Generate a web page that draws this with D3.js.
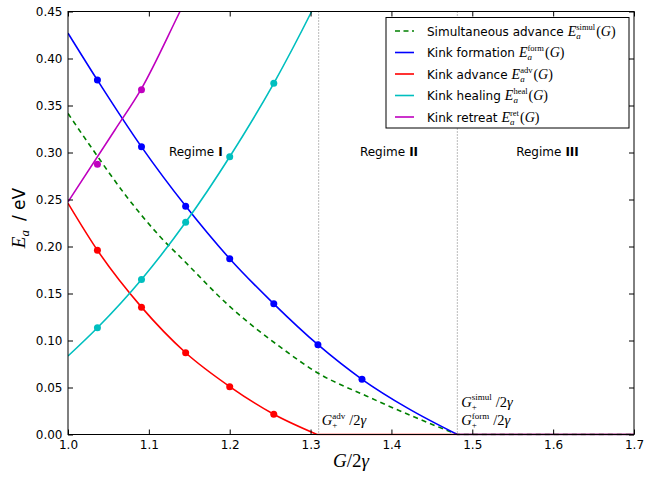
<!DOCTYPE html>
<html lang="en">
<head>
<meta charset="UTF-8">
<script src="https://d3js.org/d3.v7.min.js"></script>
<title>Kink energies</title>
<style>
body { margin: 0; background: #fff; }
svg { display: block; }
text { white-space: pre; }
</style>
</head>
<body>
<svg id="canvas"></svg>
<script>
// curves: [G/2gamma, Ea in eV], each ending where it reaches zero
let simulCurve = [[1.0, 0.3415], [1.031, 0.3027], [1.0726, 0.253], [1.114, 0.2104], [1.1426, 0.1856], [1.2003, 0.136],
    [1.262, 0.0934], [1.3096, 0.0651], [1.369, 0.041], [1.423, 0.0205], [1.4815, 0]]
let formCurve = [[1.0, 0.427], [1.0364, 0.377], [1.0909, 0.306], [1.1455, 0.243], [1.2, 0.187], [1.2545, 0.139],
    [1.3091, 0.0955], [1.3636, 0.0587], [1.42, 0.028], [1.4815, 0]]
let advCurve = [[1.0, 0.246], [1.0364, 0.196], [1.0909, 0.1355], [1.1455, 0.087], [1.2, 0.051], [1.2545, 0.0215],
    [1.308, 0]]
let healCurve = [[1.0, 0.0835], [1.0364, 0.1136], [1.0909, 0.165], [1.1455, 0.2257], [1.2, 0.2955], [1.2545, 0.3736],
    [1.3013, 0.45], [1.31, 0.465]]
let retCurve = [[1.0, 0.2475], [1.058, 0.324], [1.0909, 0.368], [1.1385, 0.45], [1.15, 0.47]]

// flat zero part after the curve hits zero
let simulZero = [[1.4815, 0], [1.7, 0]]
let formZero = [[1.4815, 0], [1.7, 0]]
let advZero = [[1.308, 0], [1.7, 0]]

// simulation points
let formDots = [[1.0364, 0.377], [1.0909, 0.306], [1.1455, 0.2427], [1.2, 0.187], [1.2545, 0.139], [1.3091, 0.0955], [1.3636, 0.0587]]
let advDots = [[1.0364, 0.196], [1.0909, 0.1353], [1.1455, 0.087], [1.2, 0.0509], [1.2545, 0.0215]]
let healDots = [[1.0364, 0.1136], [1.0909, 0.165], [1.1455, 0.2257], [1.2, 0.2955], [1.2545, 0.3736]]
let retDots = [[1.0364, 0.2874], [1.0909, 0.3668]]

let xTicks = [1.0, 1.1, 1.2, 1.3, 1.4, 1.5, 1.6, 1.7]
let yTicks = [0, 0.05, 0.1, 0.15, 0.2, 0.25, 0.3, 0.35, 0.4, 0.45]

let criticalG = [1.31, 1.4815]
let regimeNames = ['I', 'II', 'III']
let regimeX = [1.158, 1.397, 1.593]

let legendNames = ['Simultaneous advance', 'Kink formation', 'Kink advance', 'Kink healing', 'Kink retreat']
let legendSup = ['simul', 'form', 'adv', 'heal', 'ret']

let width = 645
let height = 477
let padLeft = 68, padRight = 634, padTop = 11.5, padBottom = 434.5

let svg = d3.select('#canvas').attr('width', width).attr('height', height)

let xScale = d3.scaleLinear().domain([1.0, 1.7]).range([padLeft, padRight])
let yScale = d3.scaleLinear().domain([0, 0.45]).range([padBottom, padTop])

let serif = "'Liberation Serif', 'DejaVu Serif', serif"
let sans = "'DejaVu Sans', sans-serif"

// draws a row of text pieces (for the little math labels), returns the width
let drawRich = (g, x, y, pieces) => {
    let cx = x
    let lastX = x
    pieces.forEach((p) => {
        let px = p.stack ? lastX : cx + (p.gap || 0)
        let t = g.append('text')
            .attr('x', px)
            .attr('y', y + (p.dy || 0))
            .style('font-family', p.f == 'sans' ? sans : serif)
            .style('font-style', p.i ? 'italic' : 'normal')
            .style('font-weight', p.b ? 'bold' : 'normal')
            .style('font-size', p.s + 'px')
            .attr('fill', '#000')
            .text(p.t)
        let w = t.node().getComputedTextLength()
        if (p.stack) {
            cx = Math.max(cx, px + w)
        } else {
            lastX = px
            cx = px + w
        }
    })
    return cx - x
}

let plot = svg.append('g')
svg.append('clipPath').attr('id', 'clip')
    .append('rect').attr('x', padLeft).attr('y', padTop).attr('width', padRight - padLeft).attr('height', padBottom - padTop + 1)

// vertical dotted lines
plot.selectAll('.vline')
    .data(criticalG)
    .enter()
    .append('line')
    .attr('x1', (d) => xScale(d))
    .attr('x2', (d) => xScale(d))
    .attr('y1', padTop)
    .attr('y2', padBottom)
    .attr('stroke', '#777')
    .attr('stroke-width', 1)
    .attr('stroke-dasharray', '1,2')

let line = d3.line()
    .x((d) => xScale(d[0]))
    .y((d) => yScale(d[1]))
    .curve(d3.curveMonotoneX)

let flat = d3.line()
    .x((d) => xScale(d[0]))
    .y((d) => yScale(d[1]))

let series = [
    {curve: simulCurve, zero: simulZero, dots: [], color: '#008000', dash: '5,4'},
    {curve: formCurve, zero: formZero, dots: formDots, color: '#0000ff', dash: null},
    {curve: advCurve, zero: advZero, dots: advDots, color: '#ff0000', dash: null},
    {curve: healCurve, zero: null, dots: healDots, color: '#00bfbf', dash: null},
    {curve: retCurve, zero: null, dots: retDots, color: '#bf00bf', dash: null}
]

let lines = plot.append('g').attr('clip-path', 'url(#clip)')
series.forEach((s) => {
    let d = line(s.curve)
    if (s.zero) {
        d = d + flat(s.zero).replace('M', 'L')
    }
    lines.append('path')
        .attr('d', d)
        .attr('fill', 'none')
        .attr('stroke', s.color)
        .attr('stroke-width', 1.6)
        .attr('stroke-dasharray', s.dash)
    lines.selectAll(null)
        .data(s.dots)
        .enter()
        .append('circle')
        .attr('cx', (d) => xScale(d[0]))
        .attr('cy', (d) => yScale(d[1]))
        .attr('r', 3.5)
        .attr('fill', s.color)
})

// axes, ticks inside on all four sides
let styleAxis = (g) => {
    g.select('.domain').remove()
    g.selectAll('.tick line').attr('stroke', '#000')
    g.selectAll('.tick text').style('font-family', sans).style('font-size', '12px').attr('fill', '#000')
}

svg.append('g')
    .attr('transform', 'translate(0,' + padBottom + ')')
    .call(d3.axisBottom(xScale).tickValues(xTicks).tickFormat(d3.format('.1f')).tickSizeInner(-5).tickSizeOuter(0).tickPadding(5.5))
    .call(styleAxis)
svg.append('g')
    .attr('transform', 'translate(0,' + padTop + ')')
    .call(d3.axisTop(xScale).tickValues(xTicks).tickFormat('').tickSizeInner(-5).tickSizeOuter(0))
    .call(styleAxis)
svg.append('g')
    .attr('transform', 'translate(' + padLeft + ',0)')
    .call(d3.axisLeft(yScale).tickValues(yTicks).tickFormat(d3.format('.2f')).tickSizeInner(-5).tickSizeOuter(0).tickPadding(5.5))
    .call(styleAxis)
svg.append('g')
    .attr('transform', 'translate(' + padRight + ',0)')
    .call(d3.axisRight(yScale).tickValues(yTicks).tickFormat('').tickSizeInner(-5).tickSizeOuter(0))
    .call(styleAxis)

svg.append('rect')
    .attr('x', padLeft)
    .attr('y', padTop)
    .attr('width', padRight - padLeft)
    .attr('height', padBottom - padTop)
    .attr('fill', 'none')
    .attr('stroke', '#000')
    .attr('stroke-width', 1)

// regime labels
regimeNames.forEach((r, i) => {
    let g = svg.append('g')
    let w = drawRich(g, 0, 156, [
        {t: 'Regime', f: 'sans', s: 12},
        {t: r, f: 'sans', s: 12, b: true, gap: 4}
    ])
    g.attr('transform', 'translate(' + (xScale(regimeX[i]) - w / 2) + ',0)')
})

// critical G annotations
let critLabel = (x, y, sup) => {
    drawRich(svg.append('g'), x, y, [
        {t: 'G', i: true, s: 14.5},
        {t: '+', s: 9, dy: 3},
        {t: sup, s: 9, dy: -6.5, stack: true},
        {t: '/2', s: 14.5, gap: 4},
        {t: 'γ', i: true, s: 14.5}
    ])
}
critLabel(xScale(criticalG[0]) + 3, 425, 'adv')
critLabel(xScale(criticalG[1]) + 4, 406.5, 'simul')
critLabel(xScale(criticalG[1]) + 4, 425, 'form')

// axis titles
let xt = svg.append('g')
let xw = drawRich(xt, 0, 467, [
    {t: 'G', i: true, s: 19},
    {t: '/2', s: 19},
    {t: 'γ', i: true, s: 19}
])
xt.attr('transform', 'translate(' + ((padLeft + padRight) / 2 - xw / 2) + ',0)')

let yt = svg.append('g')
let yw = drawRich(yt, 0, 0, [
    {t: 'E', i: true, s: 19},
    {t: 'a', i: true, s: 13, dy: 4},
    {t: '/ eV', f: 'sans', s: 17, gap: 9}
])
yt.attr('transform', 'translate(25,' + (218 + yw / 2) + ') rotate(-90)')

// legend
let legend = svg.append('g')
legend.append('rect')
    .attr('x', 386)
    .attr('y', 17.5)
    .attr('width', 243)
    .attr('height', 110.5)
    .attr('fill', '#fff')
    .attr('stroke', '#000')
    .attr('stroke-width', 1)
legendNames.forEach((name, i) => {
    let y = 31 + i * 21.5
    legend.append('line')
        .attr('x1', 395)
        .attr('x2', 414)
        .attr('y1', y)
        .attr('y2', y)
        .attr('stroke', series[i].color)
        .attr('stroke-width', 1.6)
        .attr('stroke-dasharray', series[i].dash ? '5,3.5' : null)
    drawRich(legend, 427, y + 4.5, [
        {t: name, f: 'sans', s: 12},
        {t: 'E', i: true, s: 14, gap: 4},
        {t: 'a', i: true, s: 9, dy: 3},
        {t: legendSup[i], s: 8.5, dy: -6, stack: true},
        {t: '(', s: 14, gap: 1},
        {t: 'G', i: true, s: 14},
        {t: ')', s: 14}
    ])
})
</script>
</body>
</html>
